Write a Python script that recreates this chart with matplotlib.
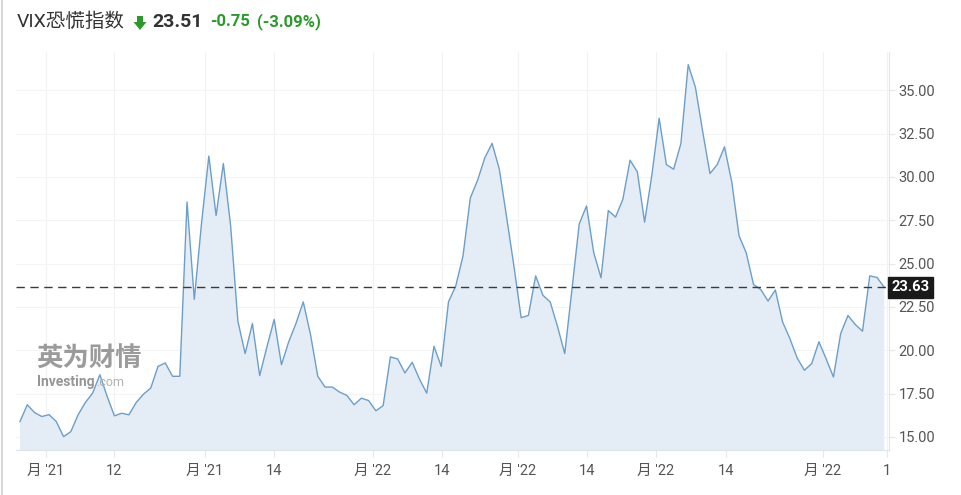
"""
VIX fear index chart (Investing.com style) recreated with matplotlib.
"""

import matplotlib
matplotlib.use('Agg')
import matplotlib.pyplot as plt
import matplotlib.transforms as mtransforms
from matplotlib.patches import Polygon
from matplotlib.lines import Line2D
import numpy as np

# Data (weekly closes)
vix_values = [
    15.89, 16.86, 16.41, 16.18, 16.29, 15.89, 15.02, 15.31, 16.28, 16.99,
    17.53, 18.59, 17.34, 16.22, 16.37, 16.28, 16.99, 17.47, 17.82, 19.07,
    19.27, 18.50, 18.50, 28.55, 22.94, 27.35, 31.20, 27.77, 30.77, 27.19,
    21.68, 19.81, 21.55, 18.54, 20.20, 21.78, 19.17, 20.49, 21.55, 22.79,
    20.91, 18.50, 17.88, 17.88, 17.59, 17.40, 16.86, 17.24, 17.10, 16.51,
    16.81, 19.62, 19.50, 18.69, 19.31, 18.34, 17.53, 20.23, 19.07, 22.80,
    23.71, 25.45, 28.78, 29.80, 31.10, 31.93, 30.44, 27.68, 24.88, 21.88,
    22.01, 24.29, 23.17, 22.79, 21.39, 19.81, 23.52, 27.29, 28.32, 25.62,
    24.18, 28.06, 27.68, 28.70, 30.96, 30.29, 27.39, 30.10, 33.38, 30.71,
    30.44, 31.93, 36.47, 35.16, 32.61, 30.19, 30.71, 31.73, 29.71, 26.61,
    25.61, 23.79, 23.50, 22.84, 23.48, 21.63, 20.68, 19.56, 18.85, 19.23,
    20.49, 19.50, 18.46, 20.97, 22.01, 21.49, 21.10, 24.29, 24.20, 23.63,
]
last_price = 23.63

x_tick_pos = [3.54, 12.98, 25.47, 34.97, 48.56, 58.06, 68.53, 78.03, 87.53, 97.17, 110.5, 119.4]
x_tick_labels = ["月 '21", "12", "月 '21", "14", "月 '22", "14",
                 "月 '22", "14", "月 '22", "14", "月 '22", "1"]
y_ticks = [15.0, 17.5, 20.0, 22.5, 25.0, 27.5, 30.0, 32.5, 35.0]

title_name = 'VIX恐慌指数'
title_price = '23.51'
title_change = '-0.75'
title_pct = '(-3.09%)'

FONTS = ['Roboto', 'Noto Sans CJK SC', 'DejaVu Sans']
plt.rcParams['font.family'] = FONTS

W, H = 961, 495


def fx(x):
    return x / W


def fy(y):
    return 1 - y / H


fig = plt.figure(figsize=(W / 100, H / 100), dpi=100)
fig.patch.set_facecolor('white')

ax = fig.add_axes([fx(16), fy(450), fx(889) - fx(16), fy(52) - fy(450)])
ax.set_facecolor('white')

x = np.arange(len(vix_values))
ax.fill_between(x, vix_values, 0, color='#e4edf5', linewidth=0, zorder=1)
ax.plot(x, vix_values, color='#6b9fca', linewidth=1.0, zorder=3)

# Last price reference line
ax.axhline(last_price, color='#3a3a3a', linewidth=1.0, linestyle=(0, (6, 4)), zorder=4)

ax.set_xlim(-0.55, 119.65)
ax.set_ylim(14.25, 37.2)

# Axes styling
ax.yaxis.tick_right()
ax.set_yticks(y_ticks)
ax.set_yticklabels([f'{v:.2f}' for v in y_ticks])
ax.set_xticks(x_tick_pos)
ax.set_xticklabels(x_tick_labels)
ax.tick_params(axis='y', length=4, width=0.8, color='#e6e9ec', pad=3,
               labelsize=10.5, labelcolor='#555555')
ax.tick_params(axis='x', length=5, width=0.8, color='#e6e9ec', pad=5,
               labelsize=10.5, labelcolor='#555555')

for side in ['top', 'left']:
    ax.spines[side].set_visible(False)
ax.spines['right'].set_color('#e3e7eb')
ax.spines['bottom'].set_color('#dde4ea')

ax.grid(True, axis='y', color='#f3f4f6', linewidth=0.8, zorder=0)
ax.grid(True, axis='x', color='#f0f2f5', linewidth=0.8, zorder=0)
ax.set_axisbelow(True)

# Price badge on the right axis
trans = mtransforms.blended_transform_factory(ax.transAxes, ax.transData)
ax.text(1.003, last_price, '23.63', transform=trans, ha='left', va='center',
        fontsize=10.5, fontweight='bold', color='white', zorder=6,
        bbox=dict(boxstyle='square,pad=0.22', facecolor='#1a1a1a', edgecolor='#1a1a1a'))

# Watermark
fig.text(fx(36), fy(359), '英为财情', fontsize=19, fontweight='bold',
         color='#8a8a8a', alpha=0.85, ha='left', va='center', zorder=2,
         family=['Noto Sans CJK SC', 'DejaVu Sans'])
fig.text(fx(37), fy(382), 'Investing', fontsize=10, fontweight='bold',
         color='#8a8a8a', alpha=0.9, ha='left', va='center', zorder=2)
fig.text(fx(96), fy(383), '.com', fontsize=9, color='#b0b0b0',
         ha='left', va='center', zorder=2)

# Header
fig.text(fx(17), fy(22), title_name, fontsize=14, color='#333333',
         ha='left', va='center')
arrow = Polygon([(fx(137), fy(16)), (fx(143), fy(16)), (fx(143), fy(22)),
                 (fx(146.5), fy(22)), (fx(140), fy(30)), (fx(133.5), fy(22)),
                 (fx(137), fy(22))],
                closed=True, transform=fig.transFigure, facecolor='#2b9a2b',
                edgecolor='none')
fig.patches.append(arrow)
fig.text(fx(152), fy(22), title_price, fontsize=14, fontweight='bold',
         color='#333333', ha='left', va='center')
fig.text(fx(210), fy(22), title_change, fontsize=12, fontweight='bold',
         color='#2b9a2b', ha='left', va='center')
fig.text(fx(257), fy(22), title_pct, fontsize=12, fontweight='bold',
         color='#2b9a2b', ha='left', va='center')

# Page border on the left edge
fig.lines.append(Line2D([fx(2), fx(2)], [0, 1], transform=fig.transFigure,
                        color='#d0d0d0', linewidth=1.2))

plt.savefig('out.png', dpi=100, facecolor='white')
